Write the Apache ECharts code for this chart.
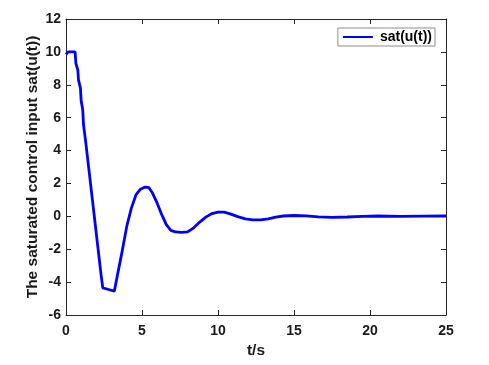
<!DOCTYPE html>
<html>
<head>
<meta charset="utf-8">
<script src="https://cdn.jsdelivr.net/npm/echarts@6/dist/echarts.min.js"></script>
<style>
  html, body { margin: 0; padding: 0; background: #fff; }
  #chart { width: 489px; height: 365px; }
</style>
</head>
<body>
<div id="chart"></div>
<script>
  // [t, sat(u(t))]
  var timeValues = [0, 0.15, 0.6, 0.65, 0.78, 0.82, 0.95, 1.0, 1.1, 1.15, 1.3, 1.5, 1.7, 1.9, 2.1, 2.3, 2.42, 2.8, 3.18,
    3.4, 3.7, 4.0, 4.3, 4.6, 4.9, 5.2, 5.45, 5.7, 6.0, 6.3, 6.6, 6.9, 7.2, 7.6, 8.0, 8.4, 8.8, 9.2, 9.6,
    10.0, 10.4, 10.8, 11.3, 11.8, 12.3, 12.8, 13.3, 13.8, 14.3, 15.0, 15.8, 16.6, 17.5, 18.5, 19.5, 20.5, 22, 23.5, 25];
  var satValues = [9.85, 10, 10, 9.3, 8.9, 8.3, 7.8, 7.0, 6.5, 5.6, 4.5, 2.9, 1.3, -0.3, -1.9, -3.5, -4.35, -4.45, -4.55,
    -3.5, -2.1, -0.6, 0.5, 1.3, 1.65, 1.78, 1.75, 1.4, 0.8, 0.1, -0.5, -0.85, -0.95, -0.97, -0.95, -0.7, -0.35, -0.05, 0.17,
    0.25, 0.25, 0.15, -0.02, -0.15, -0.22, -0.22, -0.15, -0.05, 0.02, 0.05, 0.03, -0.03, -0.06, -0.04, 0.0, 0.02, 0.0, 0.01, 0.02];

  var chart = echarts.init(document.getElementById('chart'));
  var points = timeValues.map(function (t, i) { return [t, satValues[i]]; });

  var axisColor = '#262626';
  var labelFont = { color: '#1a1a1a', fontFamily: 'Liberation Sans', fontWeight: 'bold', fontSize: 14 };
  var nameFont = { color: '#1a1a1a', fontFamily: 'Liberation Sans', fontWeight: 'bold', fontSize: 15.5 };

  function boxAxis(extra) {
    return Object.assign({
      type: 'value',
      nameMoveOverlap: false,
      axisLine: { show: true, onZero: false, lineStyle: { color: axisColor, width: 1 } },
      axisTick: { show: true, inside: true, length: 5, lineStyle: { color: axisColor } },
      splitLine: { show: false }
    }, extra);
  }

  chart.setOption({
    animation: false,
    grid: { left: 66, right: 43, top: 19, bottom: 50 },
    legend: {
      data: ['sat(u(t))'],
      right: 54, top: 28,
      padding: [2, 3, 2, 5],
      borderColor: '#8c8c8c', borderWidth: 1, borderRadius: 0,
      backgroundColor: '#fff',
      icon: 'rect', itemWidth: 30, itemHeight: 2, itemGap: 5,
      textStyle: { color: '#000', fontFamily: 'Liberation Sans', fontWeight: 'bold', fontSize: 14, padding: [0, 0, 0, 2] }
    },
    xAxis: [
      boxAxis({
        min: 0, max: 25, interval: 5, position: 'bottom',
        name: 't/s', nameLocation: 'middle', nameGap: 28, nameTextStyle: nameFont,
        axisLabel: Object.assign({ margin: 9 }, labelFont)
      }),
      boxAxis({ min: 0, max: 25, interval: 5, position: 'top', axisLabel: { show: false } })
    ],
    yAxis: [
      boxAxis({
        min: -6, max: 12, interval: 2, position: 'left',
        name: 'The saturated control input sat(u(t))', nameLocation: 'middle', nameGap: 25, nameTextStyle: nameFont,
        axisLabel: Object.assign({ margin: 5 }, labelFont)
      }),
      boxAxis({ min: -6, max: 12, interval: 2, position: 'right', axisLabel: { show: false } })
    ],
    series: [{
      name: 'sat(u(t))',
      type: 'line',
      data: points,
      showSymbol: false,
      symbol: 'none',
      smooth: false,
      itemStyle: { color: '#0000ff' },
      lineStyle: { color: '#0000ff', width: 2.8 }
    }]
  });
</script>
</body>
</html>
